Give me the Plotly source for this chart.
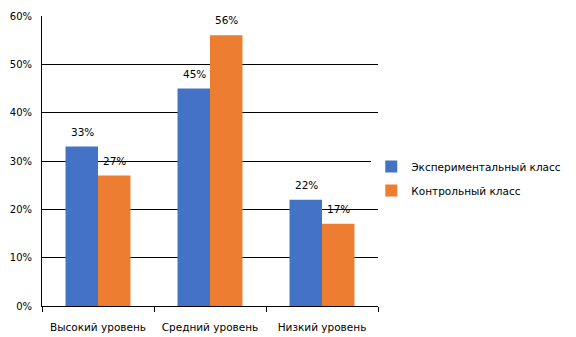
import plotly.graph_objects as go

categories = ["Высокий уровень", "Средний уровень", "Низкий уровень"]
exp_values = [0.33, 0.45, 0.22]
ctrl_values = [0.27, 0.56, 0.17]
series_names = ["Экспериментальный класс", "Контрольный класс"]
colors = ["#4472C4", "#ED7D31"]
FONT = "'DejaVu Sans', Verdana, sans-serif"

fig = go.Figure()
for i, (name, vals) in enumerate(zip(series_names, [exp_values, ctrl_values])):
    fig.add_trace(go.Bar(
        x=categories, y=vals, name=name,
        marker=dict(color=colors[i], line=dict(width=0)),
        textposition="none",
        legendgroup=name,
        offsetgroup=str(i),
    ))

annotations = []
for i, vals in enumerate([exp_values, ctrl_values]):
    for j, v in enumerate(vals):
        annotations.append(dict(
            x=categories[j], y=v, xref="x", yref="y",
            text=f"{round(v*100)}%", showarrow=False,
            xshift=(-16 if i == 0 else 16), yshift=15,
            font=dict(family=FONT, size=10.5, color="#000000"),
        ))

# page body has an 8px margin, so the figure is placed at (8, 8)
fig.update_layout(
    width=568, height=329,
    margin=dict(l=34, r=198, t=8, b=31, autoexpand=False),
    paper_bgcolor="white", plot_bgcolor="white",
    font=dict(family=FONT, size=10.5, color="#000000"),
    barmode="group", bargap=0.42, bargroupgap=0,
    showlegend=True,
    legend=dict(x=0.98, y=0.44, xanchor="left", yanchor="middle",
                tracegroupgap=5, font=dict(family=FONT, size=10.5), itemwidth=30),
    annotations=annotations,
)
fig.update_yaxes(range=[0, 0.6], dtick=0.1, tickformat=".0%",
                 showgrid=True, gridcolor="#000000", gridwidth=1,
                 showline=True, linecolor="#000000", linewidth=1,
                 ticks="", zeroline=False, ticklabelstandoff=7, automargin=False,
                 tickfont=dict(family=FONT, size=10))
fig.update_xaxes(showline=True, linecolor="#000000", linewidth=1,
                 ticks="outside", ticklen=5, tickcolor="#000000",
                 tickson="boundaries", showgrid=False, automargin=False,
                 ticklabelstandoff=11)

fig.write_html("out.html")
